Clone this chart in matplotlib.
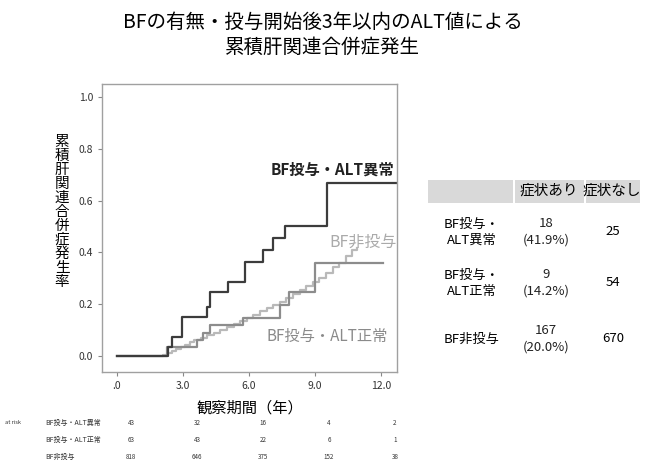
import matplotlib
matplotlib.use('Agg')
import matplotlib.pyplot as plt
from matplotlib.patches import Rectangle
from matplotlib.transforms import blended_transform_factory

plt.rcParams['font.family'] = ['Noto Sans CJK JP', 'DejaVu Sans']

# cumulative incidence step curves (time in years, cumulative rate)
abn_t = [0.0, 2.18, 2.33, 2.48, 2.94, 4.11, 4.23, 5.06, 5.82, 6.65, 7.11, 7.64, 9.53, 12.73]
abn_y = [0.0, 0.0, 0.036, 0.075, 0.152, 0.19, 0.248, 0.287, 0.364, 0.41, 0.454, 0.503, 0.667, 0.667]

norm_t = [0.0, 2.26, 3.62, 3.9, 4.23, 5.74, 7.41, 7.8, 9.0, 12.1]
norm_y = [0.0, 0.036, 0.062, 0.09, 0.12, 0.146, 0.197, 0.248, 0.36, 0.36]

none_t = [0.0, 2.1, 2.3, 2.5, 2.7, 2.9, 3.1, 3.3, 3.5, 3.8, 4.1, 4.4, 4.7, 5.0, 5.3,
          5.6, 5.9, 6.2, 6.5, 6.8, 7.1, 7.4, 7.7, 8.0, 8.3, 8.6, 8.9, 9.2, 9.5, 9.8,
          10.1, 10.4, 10.7, 10.9]
none_y = [0.0, 0.005, 0.012, 0.02, 0.028, 0.036, 0.044, 0.052, 0.06, 0.07, 0.08, 0.09,
          0.10, 0.112, 0.124, 0.136, 0.148, 0.16, 0.172, 0.185, 0.198, 0.21, 0.225,
          0.24, 0.255, 0.27, 0.287, 0.3, 0.32, 0.345, 0.36, 0.385, 0.41, 0.415]

group_labels = ['BF投与・ALT異常', 'BF非投与', 'BF投与・ALT正常']
colors = ['#3c3c3c', '#b9b9b9', '#8c8c8c']

xticks = [0, 3, 6, 9, 12]
xtick_labels = ['.0', '3.0', '6.0', '9.0', '12.0']
yticks = [0.0, 0.2, 0.4, 0.6, 0.8, 1.0]

# numbers at risk
risk_rows = ['BF投与・ALT異常', 'BF投与・ALT正常', 'BF非投与']
risk_vals = [[43, 32, 16, 4, 2],
             [63, 43, 22, 6, 1],
             [818, 646, 375, 152, 38]]

# summary table
tbl_header = ['症状あり', '症状なし']
tbl_groups = ['BF投与・\nALT異常', 'BF投与・\nALT正常', 'BF非投与']
tbl_yes = ['18\n(41.9%)', '9\n(14.2%)', '167\n(20.0%)']
tbl_no = ['25', '54', '670']

W, H = 645, 463
fig = plt.figure(figsize=(W / 100, H / 100), dpi=100)
ax = fig.add_axes([102 / W, 1 - 372 / H, 295 / W, 288 / H])

ax.step(none_t, none_y, where='post', color=colors[1], lw=1.6)
ax.step(norm_t, norm_y, where='post', color=colors[2], lw=1.6)
ax.step(abn_t, abn_y, where='post', color=colors[0], lw=1.6)

ax.set_xlim(-0.68, 12.73)
ax.set_ylim(-0.062, 1.05)
ax.set_xticks(xticks)
ax.set_xticklabels(xtick_labels)
ax.set_yticks(yticks)
ax.set_yticklabels(['%.1f' % v for v in yticks])
ax.tick_params(labelsize=7.5, length=3, color='#888888', labelcolor='#333333')
for s in ax.spines.values():
    s.set_color('#a0a0a0')
    s.set_linewidth(1.0)

# curve labels
ax.text(12.6, 0.72, group_labels[0], color='#222222', fontsize=11, ha='right', va='center',
        fontweight='bold')
ax.text(12.7, 0.44, group_labels[1], color='#aaaaaa', fontsize=11.5, ha='right', va='center')
ax.text(12.3, 0.077, group_labels[2], color='#8a8a8a', fontsize=11, ha='right', va='center')

ax.set_xlabel('観察期間（年）', fontsize=11, labelpad=6)
fig.text(62 / W, 1 - 212 / H, '\n'.join('累積肝関連合併症発生率'), fontsize=10.5,
         ha='center', va='center', linespacing=1.0)

fig.text(0.5, 1 - 22 / H, 'BFの有無・投与開始後3年以内のALT値による', fontsize=14,
         ha='center', va='center')
fig.text(0.5, 1 - 47 / H, '累積肝関連合併症発生', fontsize=14, ha='center', va='center')

# risk table
tr = blended_transform_factory(ax.transData, fig.transFigure)
fig.text(5 / W, 1 - 423 / H, 'at risk', fontsize=4, va='center', color='#333333')
for i, (lab, vals) in enumerate(zip(risk_rows, risk_vals)):
    yy = 1 - (423 + 17 * i) / H
    fig.text(45 / W, yy, lab, fontsize=5, va='center', color='#333333')
    for x, v in zip(xticks, vals):
        ax.text(x + 0.64, yy, str(v), fontsize=4.5, ha='center', va='center',
                transform=tr, color='#333333')

# summary table
fig.patches.append(Rectangle((428 / W, 1 - 203 / H), 212 / W, 23 / H,
                             transform=fig.transFigure, facecolor='#d9d9d9',
                             edgecolor='none'))
for xs in [513, 584]:
    fig.patches.append(Rectangle((xs / W, 1 - 203 / H), 1.5 / W, 23 / H,
                                 transform=fig.transFigure, facecolor='white',
                                 edgecolor='none'))
fig.text(549 / W, 1 - 191 / H, tbl_header[0], fontsize=10.5, ha='center', va='center')
fig.text(612 / W, 1 - 191 / H, tbl_header[1], fontsize=10.5, ha='center', va='center')
row_y = [232, 283, 339]
for i in range(3):
    yy = 1 - row_y[i] / H
    fig.text(472 / W, yy, tbl_groups[i], fontsize=9.5, ha='center', va='center',
             linespacing=1.3)
    fig.text(546 / W, yy, tbl_yes[i], fontsize=9.5, ha='center', va='center',
             linespacing=1.3, color='#222222')
    fig.text(613 / W, yy, tbl_no[i], fontsize=9.5, ha='center', va='center')

fig.savefig('out.png', dpi=100)
